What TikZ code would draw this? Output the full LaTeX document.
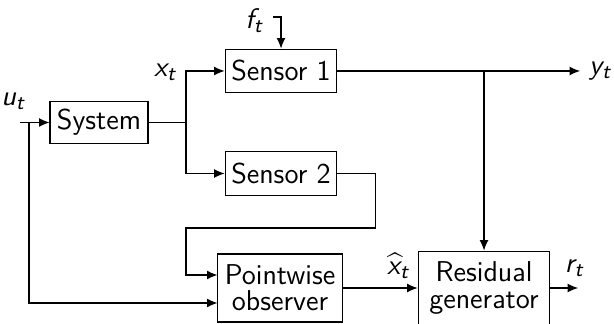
\documentclass[tikz,border=0pt]{standalone}
\usepackage{amsmath}
\usetikzlibrary{arrows.meta, positioning, calc}
\DeclareMathAlphabet{\mathsi}{OT1}{cmss}{m}{sl}
\newcommand{\sv}[1]{\mathsi{#1}_{\mathsi{t}}}

\begin{document}
\begin{tikzpicture}[x=0.0136cm, y=-0.0136cm,
    font=\sffamily\fontsize{11.1}{13}\selectfont,
    block/.style={draw, align=center, inner sep=2pt},
    sig/.style={-{Latex[length=4pt, width=3.4pt]}}]
    \useasboundingbox (0,0) rectangle (614,324);
    % blocks
    \node[block, minimum width=37.9pt, minimum height=15.9pt] (sys) at (99,122.5) {System};
    \node[block, minimum width=43.3pt, minimum height=17pt] (s1) at (281,71) {Sensor 1};
    \node[block, minimum width=43.3pt, minimum height=17pt] (s2) at (281,173.5) {Sensor 2};
    \node[block, minimum width=48pt, minimum height=26.3pt] (obs) at (280,288) {Pointwise\\[-2.8pt]observer};
    \node[block, minimum width=51pt, minimum height=28.6pt] (res) at (484,288) {Residual\\[-2.8pt]generator};
    % free ends and branch points
    \coordinate (uin) at (20,122.5);
    \coordinate (usplit) at (29,122.5);
    \coordinate (xsplit) at (186,122.5);
    \coordinate (fin) at (273,17);
    \coordinate (ysplit) at (484,71);
    \coordinate (yout) at (580,71);
    \coordinate (rout) at (578,288);
    % signal labels
    \node (ulab) at (14,101) {$\sv{u}$};
    \node (xlab) at (166,72) {$\sv{x}$};
    \node (flab) at (255,21) {$\sv{f}$};
    \node[right=0pt of yout] (ylab) {$\sv{y}$};
    \node (xhlab) at (399,266) {$\widehat{\mathsi{x}}_{\mathsi{t}}$};
    \node (rlab) at (575,268) {$\sv{r}$};
    % connections
    \draw[sig] (uin) -- (sys);
    \draw[sig] (usplit) |- ($(obs.west)+(0,15)$);
    \draw (sys) -- (xsplit);
    \draw[sig] (xsplit) |- (s1);
    \draw[sig] (xsplit) |- (s2);
    \draw[sig] (fin) -| (s1.north);
    \draw[sig] (s1) -- (yout);
    \draw[sig] (ysplit) -- (res.north);
    \draw[sig] (s2.east) -- ++(38,0) |- (186,228) |- ($(obs.west)+(0,-13)$);
    \draw[sig] (obs) -- (res);
    \draw[sig] (res) -- (rout);
\end{tikzpicture}
\end{document}
